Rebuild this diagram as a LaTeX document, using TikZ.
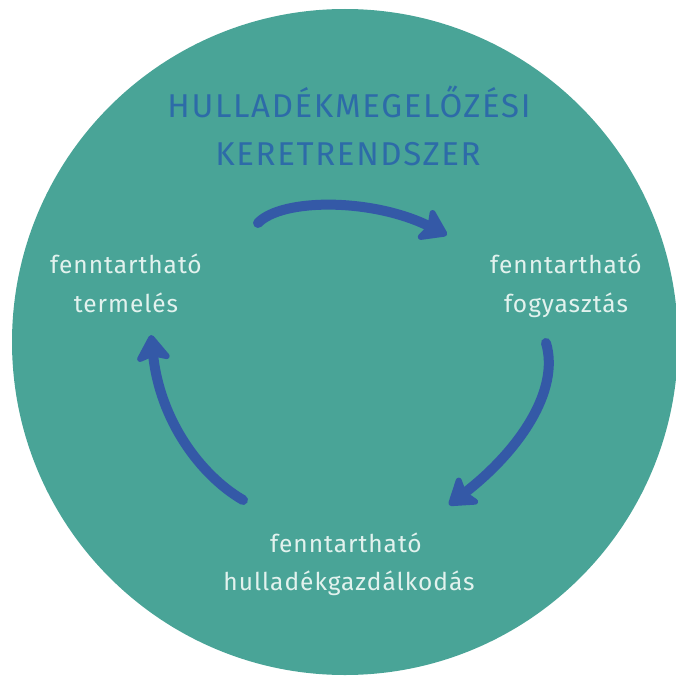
\documentclass[tikz,border=0pt]{standalone}
\usepackage{fontspec}
\setmainfont{Fira Sans}
\newfontfamily\labfont[LetterSpace=4]{Fira Sans}
\newfontfamily\titfont[LetterSpace=5]{Fira Sans}
\usetikzlibrary{arrows.meta}
\definecolor{teal1}{HTML}{49A497}
\definecolor{titblue}{HTML}{2D6BA8}
\definecolor{arrblue}{HTML}{3459A7}
\definecolor{labtxt}{HTML}{E2F2EE}
\tikzset{
  titletext/.style={text=titblue, font=\titfont\fontsize{33}{33}\selectfont, anchor=base, inner sep=0pt},
  labeltext/.style={text=labtxt, font=\labfont\fontsize{24.5}{24.5}\selectfont, anchor=base, inner sep=0pt},
  cyclearrow/.style={draw=arrblue, line width=10pt, line cap=round,
    -{Stealth[length=30pt, width=40pt, inset=6pt, round]}}
}
\begin{document}
\begin{tikzpicture}[x=1pt, y=-1pt]
\useasboundingbox (0,0) rectangle (676,677);
\begin{scope}
\clip (0,0) rectangle (676,677);
\fill[teal1] (345,342) circle[radius=333];
\end{scope}
\node[titletext] (t1) at (349,117) {HULLADÉKMEGELŐZÉSI};
\node[titletext] (t2) at (348,165) {KERETRENDSZER};
\node[labeltext] (l1) at (126,273) {fenntartható};
\node[labeltext] (l2) at (126,312) {termelés};
\node[labeltext] (r1) at (566,273) {fenntartható};
\node[labeltext] (r2) at (566,312) {fogyasztás};
\node[labeltext] (b1) at (346,552) {fenntartható};
\node[labeltext] (b2) at (349,590) {hulladékgazdálkodás};
\coordinate (a1s) at (258,223);
\coordinate (a1e) at (447,235);
\coordinate (a2s) at (546,343);
\coordinate (a2e) at (449,505);
\coordinate (a3s) at (243,500);
\coordinate (a3e) at (151,335);
\draw[cyclearrow] (a1s) .. controls (282,198) and (372,198) .. (a1e);
\draw[cyclearrow] (a2s) .. controls (560,390) and (520,450) .. (a2e);
\draw[cyclearrow] (a3s) .. controls (200,475) and (160,420) .. (a3e);
\end{tikzpicture}
\end{document}
